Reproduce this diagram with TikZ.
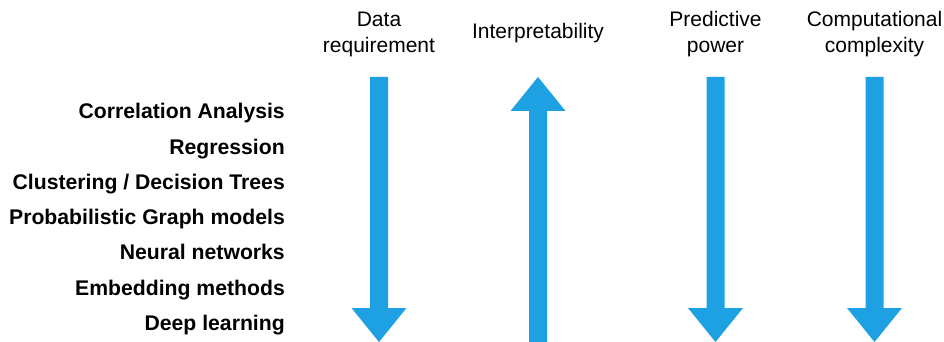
\documentclass[tikz,border=0pt]{standalone}
\usepackage{fontspec}
\setmainfont{Liberation Sans}
\definecolor{arrowblue}{RGB}{29,161,226}
\tikzset{
  method/.style={anchor=base east, inner sep=0pt, font=\fontsize{21.2}{25}\selectfont\bfseries},
  criterion/.style={anchor=north, inner sep=0pt, align=center, font=\fontsize{21}{26}\selectfont},
  blockarrow/.style={fill=arrowblue, draw=none},
}
\begin{document}
\begin{tikzpicture}[x=1pt, y=-1pt]
\useasboundingbox (0,0) rectangle (944,342);

% criteria across the top
\node[criterion] (data) at (379,11.5) {Data\\requirement};
\node[anchor=base, inner sep=0pt, font=\fontsize{21}{25}\selectfont] (interp) at (538,39) {Interpretability};
\node[criterion] (pred) at (715.5,11.5) {Predictive\\power};
\node[criterion] (comp) at (874.5,11.5) {Computational\\complexity};

% methods, from simple to complex
\node[method] (m1) at (285,119) {Correlation Analysis};
\node[method] (m2) at (285,154) {Regression};
\node[method] (m3) at (285,189) {Clustering / Decision Trees};
\node[method] (m4) at (285,224) {Probabilistic Graph models};
\node[method] (m5) at (285,259) {Neural networks};
\node[method] (m6) at (285,295) {Embedding methods};
\node[method] (m7) at (285,330) {Deep learning};

% downward block arrows
\foreach \cx in {379,715.5,874.5}{
  \fill[blockarrow] (\cx-9,77) -- (\cx+9,77) -- (\cx+9,308) -- (\cx+27.5,308)
    -- (\cx,342) -- (\cx-27.5,308) -- (\cx-9,308) -- cycle;
}
% upward block arrow
\fill[blockarrow] (538,77) -- (565.5,111) -- (547,111) -- (547,342)
  -- (529,342) -- (529,111) -- (510.5,111) -- cycle;
\end{tikzpicture}
\end{document}
